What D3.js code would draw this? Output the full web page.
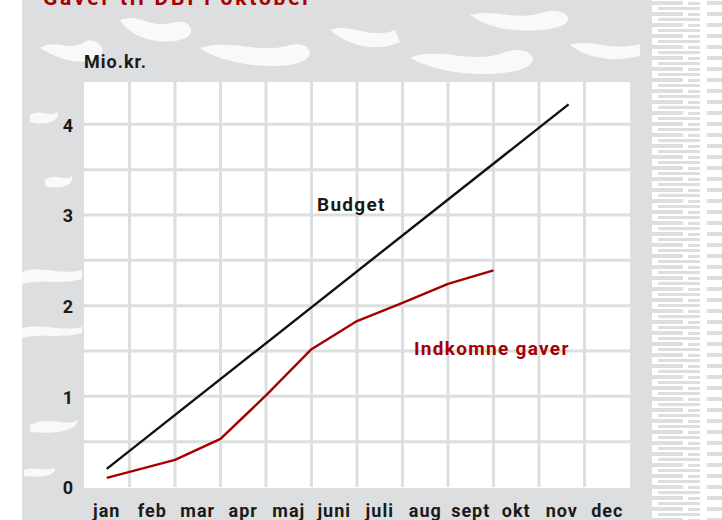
<!DOCTYPE html>
<html>
<head>
<meta charset="utf-8">
<script src="https://cdn.jsdelivr.net/npm/d3@7"></script>
<style>
  body { margin: 0; background: #fff; }
  text { font-family: Roboto, "Liberation Sans", sans-serif; font-weight: 700; }
</style>
</head>
<body>
<script>
// Data
var months = ["jan", "feb", "mar", "apr", "maj", "juni", "juli", "aug",
    "sept", "okt", "nov", "dec"];
var yTicks = [0, 1, 2, 3, 4];
// positions are in month units (0 = start of jan, 12 = end of dec)
var budgetPos = [0.5, 10.65];
var budgetValues = [0.2, 4.22];
var giftPos = [0.5, 2, 3, 4, 5, 6, 7, 8, 9];
var giftValues = [0.10, 0.30, 0.53, 1.01, 1.52, 1.83, 2.03, 2.24, 2.39];

var W = 722, H = 520;
var grey = "#dcdedf";
var ink = "#1a1a1a";
var red = "#a50000";

var svg = d3.select("body").append("svg")
    .attr("width", W)
    .attr("height", H);

// streaked texture on the right edge
var defs = svg.append("defs");
var pat = defs.append("pattern")
    .attr("id", "streaks")
    .attr("patternUnits", "userSpaceOnUse")
    .attr("width", 64).attr("height", 11);
pat.append("rect").attr("x", 3).attr("y", 1).attr("width", 40)
    .attr("height", 4).attr("fill", grey);
pat.append("rect").attr("x", 48).attr("y", 2).attr("width", 12)
    .attr("height", 3).attr("fill", grey);
pat.append("rect").attr("x", 18).attr("y", 7).attr("width", 42)
    .attr("height", 3).attr("fill", grey);

svg.append("rect").attr("x", 652).attr("y", 0)
    .attr("width", W - 652).attr("height", H)
    .attr("fill", "url(#streaks)");

// grey backing panel
svg.append("rect")
    .attr("x", 22).attr("y", 0)
    .attr("width", 630).attr("height", H)
    .attr("fill", grey);

// a few white blotches for the marbled look
var blotches = [
    "M40,48 C55,38 70,52 85,42 C95,36 110,50 98,58 C80,66 60,60 40,48Z",
    "M120,20 C140,12 150,30 175,22 C190,18 200,35 180,40 C160,45 130,38 120,20Z",
    "M200,48 C230,38 260,55 290,45 C310,40 320,58 295,64 C260,70 220,62 200,48Z",
    "M330,30 C350,22 370,40 395,30 L400,42 C380,52 350,48 330,30Z",
    "M410,58 C440,45 470,66 505,52 C530,44 545,62 520,70 C485,78 440,74 410,58Z",
    "M470,15 C495,8 515,22 545,12 C565,6 580,22 555,28 C525,34 490,30 470,15Z",
    "M570,45 C590,38 610,52 640,44 L640,56 C615,62 590,60 570,45Z",
    "M22,272 C40,264 60,276 82,270 L82,279 C60,285 40,279 22,284Z",
    "M22,328 C45,323 60,332 82,327 L82,333 C60,339 40,333 22,338Z",
    "M30,115 C40,108 50,118 58,112 C60,122 45,126 30,122Z",
    "M45,180 C55,172 65,182 72,176 C74,186 60,190 45,186Z",
    "M30,425 C50,415 65,428 78,420 C76,432 55,434 30,432Z",
    "M24,470 C35,466 45,472 55,468 C56,476 40,478 24,476Z"
];
svg.selectAll("path.blotch").data(blotches).enter().append("path")
    .attr("class", "blotch")
    .attr("d", function(d) { return d; })
    .attr("fill", "#fff")
    .attr("opacity", 0.8);

// Scales
var x = d3.scaleLinear().domain([0, 12]).range([84, 630]);
var y = d3.scaleLinear().domain([0, 4.5]).range([487, 79]);

// plot area
svg.append("rect")
    .attr("x", x(0)).attr("y", 82)
    .attr("width", x(12) - x(0)).attr("height", y(0) - 82 + 1)
    .attr("fill", "#fff");

// grid
var g = svg.append("g");
g.selectAll("line.v").data(d3.range(1, 12)).enter().append("line")
    .attr("x1", function(d) { return x(d); })
    .attr("x2", function(d) { return x(d); })
    .attr("y1", 82).attr("y2", y(0))
    .attr("stroke", grey).attr("stroke-width", 3);
g.selectAll("line.h").data(d3.range(0.5, 4.5, 0.5)).enter().append("line")
    .attr("x1", x(0)).attr("x2", x(12))
    .attr("y1", function(d) { return y(d); })
    .attr("y2", function(d) { return y(d); })
    .attr("stroke", grey).attr("stroke-width", 3);

// Axes
var yAxis = d3.axisLeft(y).tickValues(yTicks).tickFormat(d3.format("d"))
    .tickSize(0).tickPadding(0);
var ya = svg.append("g").attr("transform", "translate(73,1)").call(yAxis);
ya.select(".domain").remove();
ya.selectAll("text")
    .attr("font-size", 18).attr("fill", ink)
    .attr("font-family", "Roboto, sans-serif").attr("font-weight", 700);

var xBand = d3.scaleBand().domain(months).range([x(0), x(12)]);
var xAxis = d3.axisBottom(xBand).tickSize(0).tickPadding(0);
var xa = svg.append("g").attr("transform", "translate(0,504)").call(xAxis);
xa.select(".domain").remove();
xa.selectAll("text")
    .attr("font-size", 18).attr("fill", ink)
    .attr("letter-spacing", 1)
    .attr("font-family", "Roboto, sans-serif").attr("font-weight", 700);

// Lines
var line = d3.line()
    .x(function(d) { return x(d[0]); })
    .y(function(d) { return y(d[1]); });

svg.append("path")
    .datum(d3.zip(budgetPos, budgetValues))
    .attr("d", line)
    .attr("fill", "none").attr("stroke", "#111").attr("stroke-width", 2.4);

svg.append("path")
    .datum(d3.zip(giftPos, giftValues))
    .attr("d", line)
    .attr("fill", "none").attr("stroke", red)
    .attr("stroke-width", 2.4).attr("stroke-linejoin", "round");

// Labels
svg.append("text").attr("x", 43).attr("y", 5)
    .attr("font-size", 21).attr("fill", red)
    .attr("textLength", 267)
    .text("Gaver til DBI i oktober");

svg.append("text").attr("x", 84).attr("y", 68)
    .attr("font-size", 18).attr("fill", ink)
    .attr("letter-spacing", 1)
    .text("Mio.kr.");

svg.append("text").attr("x", 317).attr("y", 211)
    .attr("font-size", 19).attr("fill", ink)
    .attr("letter-spacing", 1.3)
    .text("Budget");

svg.append("text").attr("x", 414).attr("y", 355)
    .attr("font-size", 19).attr("fill", red)
    .attr("letter-spacing", 1.3)
    .text("Indkomne gaver");
</script>
</body>
</html>
